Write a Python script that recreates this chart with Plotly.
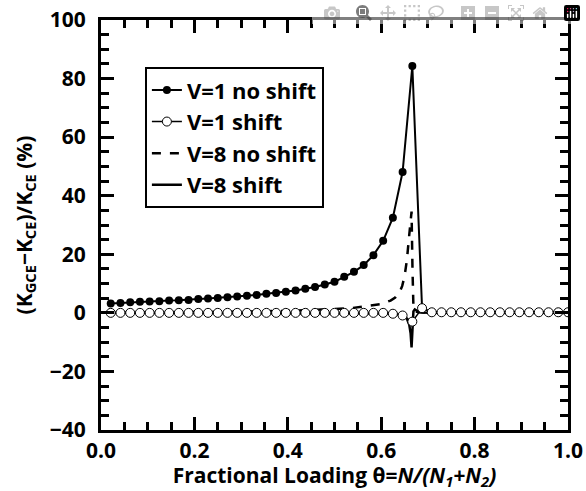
import plotly.graph_objects as go

# loading points for the V=1 curves (k/48)
theta1 = [k / 48 for k in range(1, 49)]

v1_noshift = [3.2, 3.4, 3.6, 3.8, 3.9, 4.0, 4.2, 4.3, 4.4, 4.7, 4.9, 5.1,
              5.3, 5.6, 5.8, 6.1, 6.5, 6.8, 7.2, 7.6, 8.2, 8.8, 9.7, 10.6,
              12.3, 14.0, 16.3, 19.7, 24.6, 32.5, 48.1, 84.3, 1.6,
              0.2, 0.2, 0.2, 0.2, 0.2, 0.2, 0.2, 0.2, 0.2, 0.2, 0.2, 0.2, 0.2, 0.2, 0.2]

v1_shift = [0.0] * 29 + [-0.3, -0.9, -3.0, 1.6] + [0.2] * 15

# denser grid for the V=8 curves
theta8 = [0.0, 0.1, 0.2, 0.3, 0.4, 0.45, 0.5, 0.54, 0.58, 0.6, 0.62, 0.63,
          0.64, 0.645, 0.65, 0.655, 0.66, 0.663, 0.665, 0.667, 0.669, 0.672,
          0.676, 0.68, 0.69, 0.7, 0.75, 0.8, 0.9, 1.0]

v8_noshift = [0.0, 0.1, 0.2, 0.4, 0.7, 0.9, 1.3, 1.7, 2.4, 3.0, 4.2, 5.2,
              7.3, 9.2, 12.5, 18.0, 26.5, 31.5, 34.6, 15.0, 2.0, 0.5,
              0.3, 0.2, 0.1, 0.0, 0.0, 0.0, 0.0, 0.0]

v8_shift = [0.0, 0.0, 0.0, 0.0, 0.0, 0.0, 0.0, 0.0, 0.0, -0.1, -0.2, -0.3,
            -0.5, -0.8, -1.2, -2.0, -4.0, -7.0, -11.8, -5.0, 0.5, 1.2,
            0.8, 0.4, 0.1, 0.0, 0.0, 0.0, 0.0, 0.0]

fig = go.Figure()

# drawing order: open circles last so they sit on top
fig.add_trace(go.Scatter(x=theta1, y=v1_noshift, mode="lines+markers",
                         name="V=1 no shift", legendrank=1,
                         line=dict(color="black", width=2),
                         marker=dict(symbol="circle", size=8, color="black")))

fig.add_trace(go.Scatter(x=theta8, y=v8_noshift, mode="lines",
                         name="V=8 no shift", legendrank=3,
                         line=dict(color="black", width=2.5, dash="dash")))

fig.add_trace(go.Scatter(x=theta8, y=v8_shift, mode="lines",
                         name="V=8 shift", legendrank=4,
                         line=dict(color="black", width=2.5)))

fig.add_trace(go.Scatter(x=theta1, y=v1_shift, mode="lines+markers",
                         name="V=1 shift", legendrank=2,
                         line=dict(color="black", width=1.5),
                         marker=dict(symbol="circle", size=9, color="white",
                                     line=dict(color="black", width=1))))

tick_font = dict(size=21, color="black", weight="bold")
title_font = dict(size=21, color="black", weight="bold")

fig.update_xaxes(range=[0, 1], dtick=0.2, tickformat=".1f",
                 ticks="inside", ticklen=13, tickwidth=3, tickcolor="black",
                 showline=True, linecolor="black", linewidth=3, mirror="allticks",
                 minor=dict(ticks="inside", ticklen=8, tickwidth=3, tickcolor="black"),
                 showgrid=False, zeroline=False, tickfont=tick_font,
                 automargin=False,
                 title=dict(text="Fractional Loading θ=<i>N/(N<sub>1</sub>+N<sub>2</sub>)</i>",
                            font=title_font, standoff=8))

fig.update_yaxes(range=[-40, 100], dtick=20,
                 ticks="inside", ticklen=13, tickwidth=3, tickcolor="black",
                 showline=True, linecolor="black", linewidth=3, mirror="allticks",
                 minor=dict(ticks="inside", ticklen=8, tickwidth=3, tickcolor="black"),
                 showgrid=False, zeroline=False, tickfont=tick_font,
                 ticklabelstandoff=8, automargin=False,
                 title=dict(text="(K<sub>GCE</sub>−K<sub>CE</sub>)/K<sub>CE</sub> (%)",
                            font=title_font, standoff=12))

fig.update_layout(
    width=586, height=491,
    margin=dict(l=101, r=18, t=20, b=61),
    plot_bgcolor="white",
    legend=dict(x=0.094, y=0.885, xanchor="left", yanchor="top",
                bgcolor="white", bordercolor="black", borderwidth=2,
                font=dict(size=22, color="black", weight="bold")),
)

fig.write_html("out.html",
               post_script="document.body.style.margin='0';document.body.style.overflow='hidden';")
